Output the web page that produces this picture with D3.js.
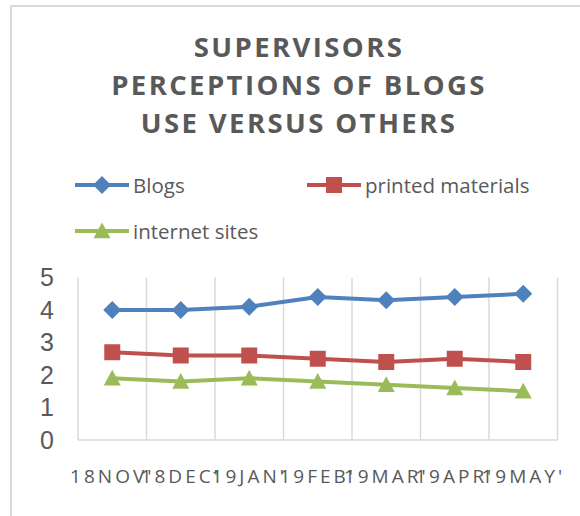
<!DOCTYPE html>
<html>
<head>
<meta charset="utf-8">
<script src="https://cdn.jsdelivr.net/npm/d3@7"></script>
<style>
  body { margin: 0; background: #fff; }
  svg { display: block; }
</style>
</head>
<body>
<div id="chart"></div>
<script>
"use strict";

var months = ["18NOV'", "18DEC'", "19JAN'", "19FEB'", "19MAR'", "19APR'", "19MAY'"];
var blogs = [4.0, 4.0, 4.1, 4.4, 4.3, 4.4, 4.5];
var printed = [2.7, 2.6, 2.6, 2.5, 2.4, 2.5, 2.4];
var internet = [1.9, 1.8, 1.9, 1.8, 1.7, 1.6, 1.5];
var yTicks = [0, 1, 2, 3, 4, 5];
var titleLines = ["SUPERVISORS", "PERCEPTIONS OF BLOGS", "USE VERSUS OTHERS"];

var series = [
  {name: "Blogs", values: blogs, color: "#4F81BD", marker: "diamond"},
  {name: "printed materials", values: printed, color: "#C0504D", marker: "square"},
  {name: "internet sites", values: internet, color: "#9BBB59", marker: "triangle"}
];

var W = 580, H = 516;
var plot = {left: 78, right: 557.5, top: 277.5, bottom: 440};
var textColor = "#595959";

var svg = d3.select("#chart").append("svg")
  .attr("width", W)
  .attr("height", H);

// chart frame (only left and top edges are visible)
svg.append("path")
  .attr("d", "M11,516 L11,6 L580,6")
  .attr("fill", "none")
  .attr("stroke", "#d9d9d9")
  .attr("stroke-width", 2);

// title
svg.append("g")
  .selectAll("text")
  .data(titleLines)
  .enter()
    .append("text")
      .attr("x", 299)
      .attr("y", function(d, i) { return 57 + i * 38; })
      .attr("text-anchor", "middle")
      .attr("font-family", "'Open Sans', sans-serif")
      .attr("font-weight", "bold")
      .attr("font-size", 27.5)
      .attr("letter-spacing", 2.4)
      .attr("fill", textColor)
      .text(function(d) { return d; });

var x = d3.scaleBand()
  .domain(months)
  .range([plot.left, plot.right]);

var y = d3.scaleLinear()
  .domain([0, 5])
  .range([plot.bottom, plot.top]);

// vertical gridlines at category boundaries
var bounds = months.map(function(m) { return x(m); }).concat([plot.right]);
svg.append("g")
  .selectAll("line")
  .data(bounds)
  .enter()
    .append("line")
      .attr("x1", function(d) { return d; })
      .attr("x2", function(d) { return d; })
      .attr("y1", y(5))
      .attr("y2", y(0))
      .attr("stroke", "#d9d9d9")
      .attr("stroke-width", 1.5);

// category axis line
svg.append("line")
  .attr("x1", plot.left)
  .attr("x2", plot.right)
  .attr("y1", y(0))
  .attr("y2", y(0))
  .attr("stroke", "#d9d9d9")
  .attr("stroke-width", 1.5);

// y labels
var yAxis = svg.append("g")
  .attr("transform", "translate(" + (plot.left - 24) + ",0)")
  .call(d3.axisLeft(y).tickValues(yTicks).tickFormat(d3.format("d")).tickSize(0).tickPadding(0));
yAxis.select(".domain").remove();
yAxis.selectAll("text")
  .attr("font-family", "'Liberation Sans', Arial, sans-serif")
  .attr("font-size", 25)
  .attr("fill", textColor);

// x labels
var xAxis = svg.append("g")
  .attr("transform", "translate(0," + 483 + ")")
  .call(d3.axisBottom(x).tickSize(0).tickPadding(0));
xAxis.select(".domain").remove();
xAxis.selectAll("text")
  .attr("dy", 0)
  .attr("font-family", "'Open Sans', sans-serif")
  .attr("font-size", 19)
  .attr("letter-spacing", 3)
  .attr("fill", textColor);

function markerPath(type, size) {
  var s = size / 2;
  if (type === "diamond") {
    return "M0," + (-s) + "L" + s + ",0L0," + s + "L" + (-s) + ",0Z";
  }
  if (type === "square") {
    return "M" + (-s) + "," + (-s) + "H" + s + "V" + s + "H" + (-s) + "Z";
  }
  return "M0," + (-s) + "L" + s + "," + (s * 0.85) + "L" + (-s) + "," + (s * 0.85) + "Z";
}
var markerSize = {diamond: 18, square: 16, triangle: 17};

var line = d3.line()
  .x(function(d, i) { return x(months[i]) + x.bandwidth() / 2; })
  .y(function(d) { return y(d); });

series.forEach(function(s) {
  svg.append("path")
    .datum(s.values)
    .attr("d", line)
    .attr("fill", "none")
    .attr("stroke", s.color)
    .attr("stroke-width", 4)
    .attr("stroke-linejoin", "round");

  svg.append("g")
    .selectAll("path")
    .data(s.values)
    .enter()
      .append("path")
        .attr("transform", function(d, i) {
          return "translate(" + (x(months[i]) + x.bandwidth() / 2) + "," + y(d) + ")";
        })
        .attr("d", markerPath(s.marker, markerSize[s.marker]))
        .attr("fill", s.color);
});

// legend
var legendPos = [
  {x: 75, y: 185},
  {x: 307, y: 185},
  {x: 75, y: 231}
];
series.forEach(function(s, i) {
  var p = legendPos[i];
  var g = svg.append("g").attr("transform", "translate(" + p.x + "," + p.y + ")");
  g.append("line")
    .attr("x1", 0)
    .attr("x2", 54)
    .attr("stroke", s.color)
    .attr("stroke-width", 4);
  g.append("path")
    .attr("transform", "translate(27,0)")
    .attr("d", markerPath(s.marker, markerSize[s.marker]))
    .attr("fill", s.color);
  g.append("text")
    .attr("x", 58)
    .attr("y", 8)
    .attr("font-family", "'Open Sans', sans-serif")
    .attr("font-size", 20.5)
    .attr("fill", textColor)
    .text(s.name);
});
</script>
</body>
</html>
